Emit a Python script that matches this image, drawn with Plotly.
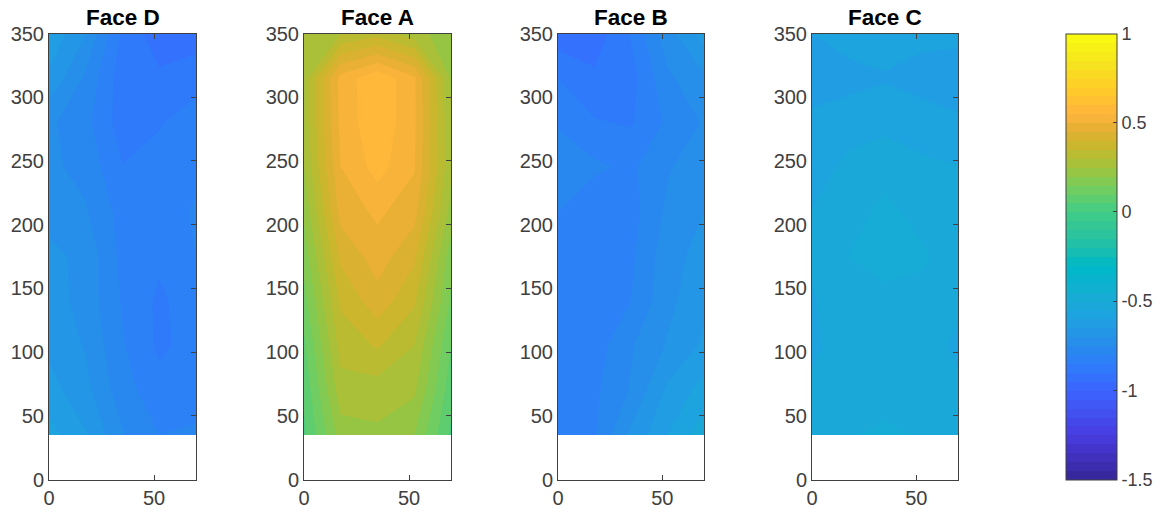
import plotly.graph_objects as go

W, H = 1167, 512
x_nodes = [0, 17.5, 35, 52.5, 70]
y_nodes = [35, 70, 105, 140, 175, 210, 245, 280, 315, 350]

face_d = [
    [-.58, -.645, -.745, -.80, -.79],
    [-.63, -.685, -.78, -.83, -.83],
    [-.66, -.705, -.795, -.86, -.83],
    [-.675, -.72, -.805, -.86, -.82],
    [-.685, -.715, -.815, -.84, -.80],
    [-.72, -.745, -.82, -.84, -.79],
    [-.74, -.765, -.848, -.835, -.815],
    [-.74, -.785, -.875, -.853, -.83],
    [-.66, -.76, -.88, -.89, -.865],
    [-.61, -.70, -.86, -.93, -.93],
]
face_a = [
    [.04, .225, .24, .20, .04],
    [.06, .28, .275, .26, .07],
    [.09, .32, .355, .30, .10],
    [.13, .36, .43, .36, .14],
    [.17, .41, .475, .41, .17],
    [.21, .47, .51, .47, .23],
    [.25, .50, .57, .505, .26],
    [.27, .515, .59, .51, .26],
    [.27, .52, .59, .51, .24],
    [.25, .30, .33, .27, .22],
]
face_b = [
    [-.84, -.805, -.69, -.60, -.52],
    [-.84, -.81, -.745, -.64, -.58],
    [-.84, -.825, -.755, -.695, -.64],
    [-.84, -.84, -.80, -.715, -.66],
    [-.84, -.84, -.81, -.72, -.68],
    [-.80, -.84, -.82, -.74, -.70],
    [-.77, -.79, -.81, -.755, -.72],
    [-.805, -.845, -.855, -.79, -.745],
    [-.85, -.89, -.87, -.76, -.71],
    [-.93, -.93, -.845, -.72, -.63],
]
face_c = [
    [-.53, -.505, -.49, -.505, -.53],
    [-.54, -.525, -.52, -.525, -.54],
    [-.56, -.525, -.52, -.525, -.56],
    [-.555, -.52, -.515, -.52, -.54],
    [-.54, -.50, -.48, -.49, -.53],
    [-.548, -.525, -.485, -.52, -.535],
    [-.58, -.535, -.525, -.54, -.548],
    [-.585, -.575, -.56, -.575, -.59],
    [-.63, -.615, -.605, -.62, -.63],
    [-.60, -.58, -.57, -.585, -.585],
]
titles = ["Face D", "Face A", "Face B", "Face C"]
faces = [face_d, face_a, face_b, face_c]
y_ticks = [0, 50, 100, 150, 200, 250, 300, 350]
x_ticks = [0, 50]
cbar_ticks = [-1.5, -1, -0.5, 0, 0.5, 1]
cbar_labels = ["-1.5", "-1", "-0.5", "0", "0.5", "1"]

color_vals = [-1.5, -1.25, -1.0, -.85, -.75, -.6, -.5, -.3, -.2, 0, .15, .25, .35, .45, .55, .7, .85, 1]
color_rgb = [
    (54, 38, 150), (72, 60, 225), (60, 100, 255), (45, 125, 250), (40, 140, 235), (30, 160, 225),
    (25, 170, 215), (0, 185, 200), (30, 190, 170), (65, 205, 135), (120, 205, 90), (160, 195, 60),
    (195, 185, 45), (225, 175, 50), (255, 180, 60), (255, 205, 40), (245, 230, 30), (250, 252, 15),
]
colorscale = [[(v + 1.5) / 2.5, f"rgb{c}"] for v, c in zip(color_vals, color_rgb)]

TXT = "#404040"
FONT = "Liberation Sans, Arial, sans-serif"
panels = [(49, 196), (304, 451), (558, 704), (812, 958)]
top, bottom = 33.5, 479.5

fig = go.Figure()
layout = dict(
    width=W, height=H, margin=dict(l=0, r=0, t=0, b=0, autoexpand=False), autosize=False,
    paper_bgcolor="white", plot_bgcolor="white", showlegend=False,
    font=dict(family=FONT, size=20, color=TXT),
)
annotations = []
for i, (face, title, (l, r)) in enumerate(zip(faces, titles, panels)):
    n = i + 1
    m = i + 5
    xa = f"x{n}"
    fig.add_trace(go.Contour(
        x=x_nodes, y=y_nodes, z=face, xaxis=xa, yaxis=f"y{n}",
        colorscale=colorscale, zmin=-1.5, zmax=1,
        contours=dict(start=-1.5, end=1, size=0.05, coloring="fill", showlines=False),
        line=dict(width=0, smoothing=0), hoverinfo="skip",
        showscale=(i == 3),
        colorbar=dict(
            x=1066 / W, xanchor="left", xpad=0, ypad=0, thicknessmode="pixels", thickness=51,
            lenmode="fraction", len=(bottom - top) / H, y=1 - bottom / H, yanchor="bottom",
            outlinecolor=TXT, outlinewidth=1, ticks="inside", ticklen=4, tickcolor=TXT,
            tickmode="array", tickvals=cbar_ticks, ticktext=cbar_labels, tickprefix="\u00a0",
            tickfont=dict(family=FONT, size=18, color=TXT),
        ),
    ))
    fig.add_trace(go.Scatter(x=[], y=[], xaxis=xa, yaxis=f"y{m}", hoverinfo="skip"))
    layout[f"xaxis{n}"] = dict(
        domain=[l / W, r / W], range=[0, 70], anchor=f"y{n}", tickmode="array", tickvals=x_ticks,
        ticks="inside", ticklen=5, tickcolor=TXT, showline=True, linecolor=TXT, linewidth=1,
        mirror="ticks", showgrid=False, zeroline=False, tickfont=dict(size=20, color=TXT),
    )
    layout[f"yaxis{n}"] = dict(
        domain=[1 - bottom / H, 1 - top / H], range=[0, 350], anchor=xa, tickmode="array",
        tickvals=y_ticks, ticks="", showline=True, linecolor=TXT, linewidth=1, mirror=True,
        showgrid=False, zeroline=False, tickfont=dict(size=20, color=TXT),
    )
    layout[f"yaxis{m}"] = dict(
        domain=[1 - bottom / H, 1 - top / H], range=[0, 350], anchor=xa, overlaying=f"y{n}",
        side="right", tickmode="array", tickvals=y_ticks, ticks="inside", ticklen=5, tickcolor=TXT,
        showticklabels=False, showline=False, showgrid=False, zeroline=False,
    )
    annotations.append(dict(
        text=f"<b>{title}</b>", x=(l + r) / 2 / W, y=1 - 17 / H, xref="paper", yref="paper",
        xanchor="center", yanchor="middle", showarrow=False,
        font=dict(family=FONT, size=22.5, color="black"),
    ))
layout["annotations"] = annotations
fig.update_layout(**layout)
fig.write_html("out.html", config={"displayModeBar": False},
               post_script="document.body.style.margin='0';")
